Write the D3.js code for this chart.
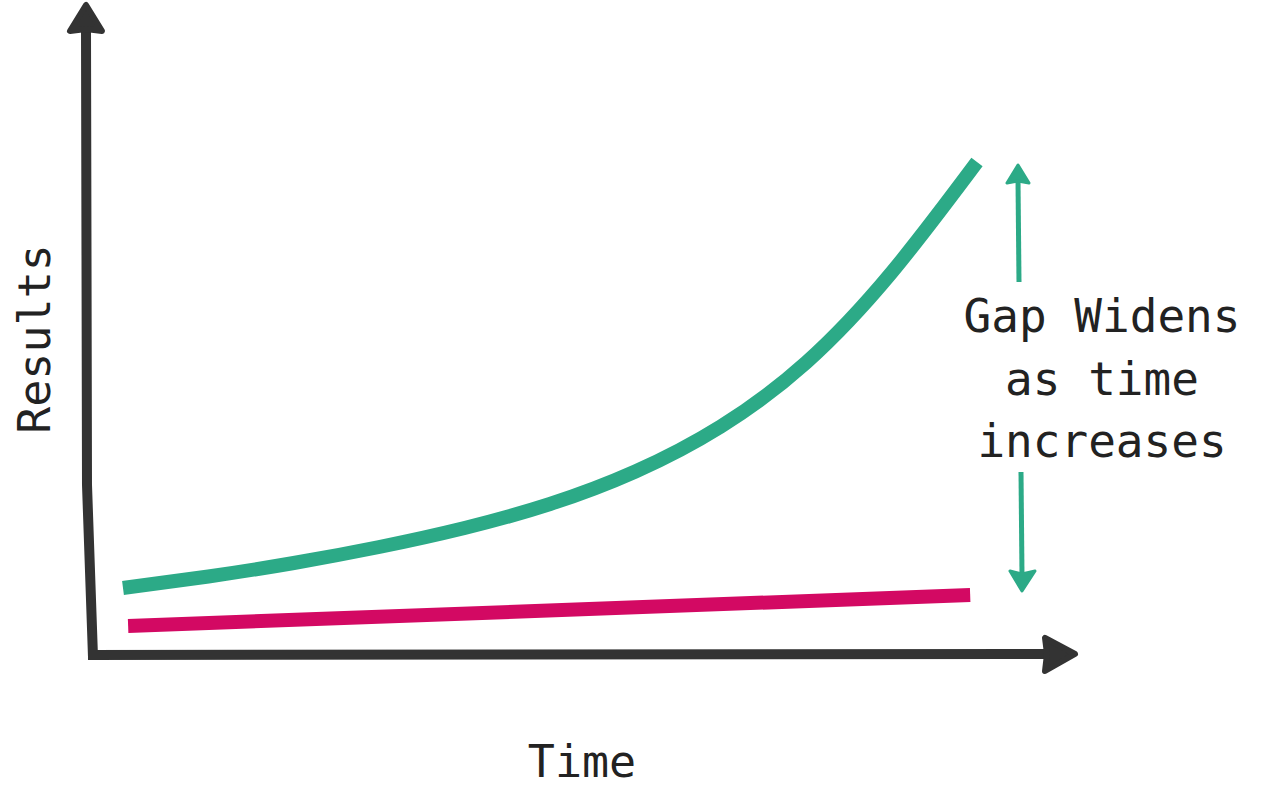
<!DOCTYPE html>
<html>
<head>
<meta charset="utf-8">
<script src="https://cdn.jsdelivr.net/npm/d3@7"></script>
<style>
  html, body { margin: 0; padding: 0; background: #ffffff; }
  svg { display: block; }
  text { font-family: "DejaVu Sans Mono", "Liberation Mono", monospace; fill: #222; }
</style>
</head>
<body>
<svg id="chart" width="1262" height="791"></svg>
<script>
// ---- data ----
const timeSteps   = [0, 1, 2, 3, 4, 5, 6, 7, 8, 9, 10];
const greenValues = [13.4, 15.7, 18.4, 21.6, 25.4, 30.2, 36.7, 45.7, 58.5, 76.5, 98.6];
const pinkTimes   = [0.06, 9.92];
const pinkValues  = [5.8, 12.0];
const axisLabels  = ["Time", "Results"];
const annotationLines = ["Gap Widens", "as time", "increases"];

// ---- layout ----
const svg = d3.select("#chart");
const x = d3.scaleLinear().domain([0, 10]).range([123, 977]);
const y = d3.scaleLinear().domain([0, 100]).range([655, 155]);

const dark = "#333333";
const green = "#2caa87";
const pink = "#d30963";

// ---- axes (hand-drawn arrow style) ----
const origin = [93, 655];
const line = d3.line();
svg.append("path")
  .attr("d", line([[86, 30], [87, 485], [origin[0], origin[1] + 2]]))
  .attr("fill", "none").attr("stroke", dark).attr("stroke-width", 10);
svg.append("path")
  .attr("d", line([[origin[0] - 5, origin[1]], [1050, 654]]))
  .attr("fill", "none").attr("stroke", dark).attr("stroke-width", 10);
// arrowheads
svg.append("path")
  .attr("d", line([[86, 5], [70, 31], [86, 29], [102, 31]]) + "Z")
  .attr("fill", dark).attr("stroke", dark).attr("stroke-width", 6).attr("stroke-linejoin", "round");
svg.append("path")
  .attr("d", line([[1075, 654], [1045, 638], [1047, 654], [1045, 671]]) + "Z")
  .attr("fill", dark).attr("stroke", dark).attr("stroke-width", 6).attr("stroke-linejoin", "round");

// ---- series ----
const curve = d3.line()
  .x(d => x(d[0])).y(d => y(d[1]))
  .curve(d3.curveNatural);
svg.append("path")
  .datum(timeSteps.map((t, i) => [t, greenValues[i]]))
  .attr("d", curve)
  .attr("fill", "none").attr("stroke", green).attr("stroke-width", 14);
svg.append("path")
  .datum(pinkTimes.map((t, i) => [t, pinkValues[i]]))
  .attr("d", curve)
  .attr("fill", "none").attr("stroke", pink).attr("stroke-width", 14);

// ---- annotation arrows ----
svg.append("path")
  .attr("d", line([[1019, 282], [1018, 180]]))
  .attr("stroke", green).attr("stroke-width", 5).attr("fill", "none");
svg.append("path")
  .attr("d", line([[1018, 165], [1007, 183], [1018, 181], [1029, 183]]) + "Z")
  .attr("fill", green).attr("stroke", green).attr("stroke-width", 3).attr("stroke-linejoin", "round");
svg.append("path")
  .attr("d", line([[1021, 472], [1022, 575]]))
  .attr("stroke", green).attr("stroke-width", 5).attr("fill", "none");
svg.append("path")
  .attr("d", line([[1022, 591], [1010, 571], [1022, 574], [1035, 571]]) + "Z")
  .attr("fill", green).attr("stroke", green).attr("stroke-width", 3).attr("stroke-linejoin", "round");

// ---- text ----
svg.append("g").selectAll("text")
  .data(annotationLines).join("text")
  .attr("x", 1102)
  .attr("y", (d, i) => 332 + i * 62.5)
  .attr("text-anchor", "middle")
  .attr("font-size", 46)
  .text(d => d);

svg.append("text")
  .attr("x", 582).attr("y", 777)
  .attr("text-anchor", "middle")
  .attr("font-size", 45)
  .text(axisLabels[0]);

svg.append("text")
  .attr("transform", "translate(50,339) rotate(-90)")
  .attr("text-anchor", "middle")
  .attr("font-size", 45)
  .text(axisLabels[1]);
</script>
</body>
</html>
